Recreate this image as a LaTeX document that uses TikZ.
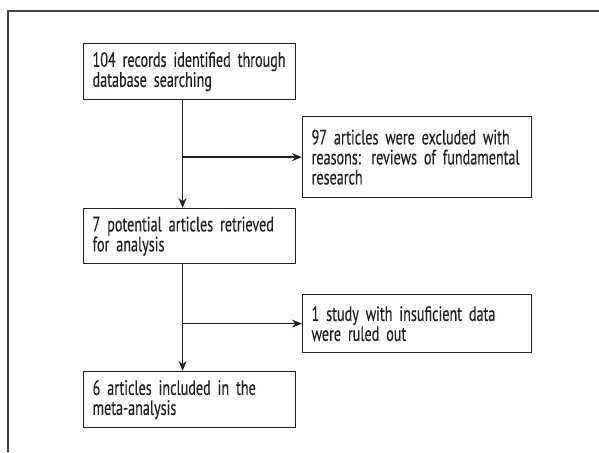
\documentclass[tikz,border=0pt]{standalone}
\usepackage{fontspec}
\setmainfont{PT Sans}[FakeStretch=0.68, FakeBold=0.3]
\usetikzlibrary{arrows.meta}

\definecolor{ink}{rgb}{0.14,0.12,0.13}

\tikzset{
    stagebox/.style={draw=ink, line width=0.6pt, rectangle, anchor=north west,
        align=left, inner xsep=4.5pt, inner ysep=0pt,
        minimum width=105.5pt, text width=97pt, text=ink,
        font=\fontsize{10.4}{10}\selectfont},
    dropbox/.style={stagebox, minimum width=114.5pt, text width=105.5pt},
    flow/.style={draw=ink, line width=0.65pt, -{Stealth[length=5pt,width=4pt]}}
}

\begin{document}
\begin{tikzpicture}[x=0.5pt, y=-0.5pt]
        \useasboundingbox (0,0) rectangle (599,452);
        \draw[ink!85, line width=0.9pt] (8,452) -- (8,11) -- (599,11);

        % main column
        \node[stagebox, minimum height=28pt] (b1) at (83,43) {104 records identified through\\database searching};
        \node[stagebox, minimum height=27.5pt] (b3) at (83,208) {7 potential articles retrieved\\for analysis};
        \node[stagebox, minimum height=28pt] (b5) at (83,371) {6 articles included in the\\meta-analysis};

        % excluded on the right
        \node[dropbox, minimum height=40.5pt] (b2) at (302,116) {97 articles were excluded with\\reasons: reviews of fundamental\\research};
        \node[dropbox, minimum height=29pt] (b4) at (302,294) {1 study with insuficient data\\were ruled out};

        \draw[flow] ([xshift=-3.5pt]b1.south) -- ([xshift=-3.5pt]b1.south |- b3.north);
        \draw[flow] ([xshift=-3.5pt]b1.south |- b2.west) -- (b2.west);
        \draw[flow] ([xshift=-3.5pt]b3.south) -- ([xshift=-3.5pt]b3.south |- b5.north);
        \draw[flow] ([xshift=-3.5pt]b3.south |- b4.west) -- (b4.west);
\end{tikzpicture}
\end{document}
